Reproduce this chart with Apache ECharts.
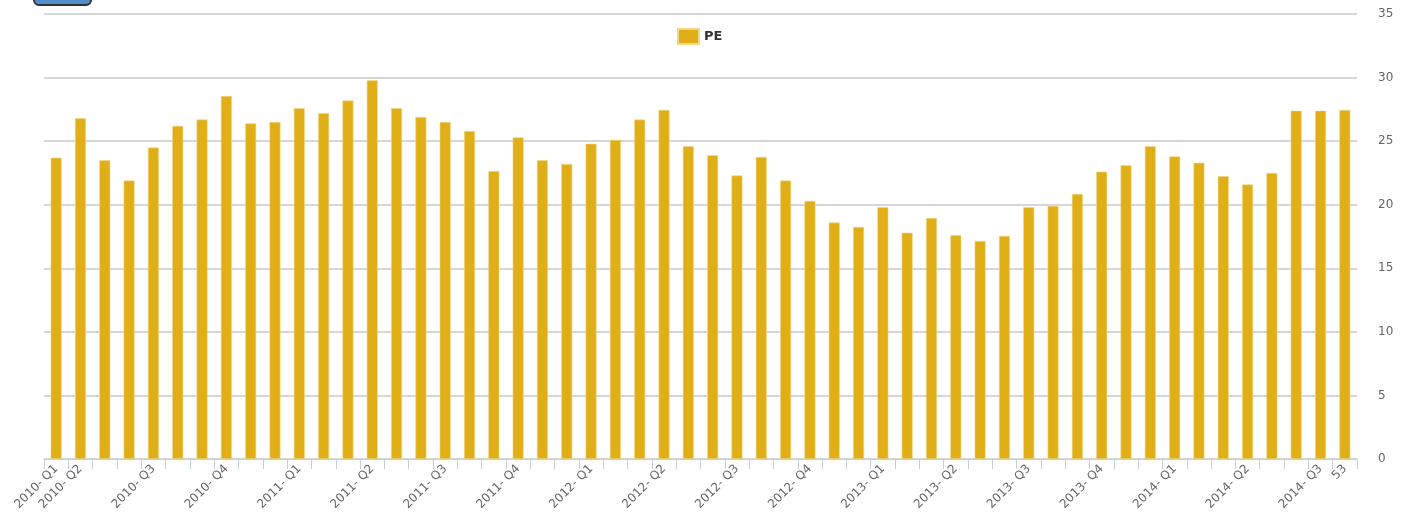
<!DOCTYPE html>
<html>
<head>
<meta charset="utf-8">
<script src="https://cdn.jsdelivr.net/npm/echarts@6/dist/echarts.min.js"></script>
<style>html,body{margin:0;padding:0;background:#fff}#c{width:1423px;height:526px}</style>
</head>
<body>
<div id="c"></div>
<script>
const tickLabels = [
  '2010- Q1','2010- Q2','','','2010- Q3','','','2010- Q4','','',
  '2011- Q1','','','2011- Q2','','','2011- Q3','','','2011- Q4',
  '','','2012- Q1','','','2012- Q2','','','2012- Q3','',
  '','2012- Q4','','','2013- Q1','','','2013- Q2','','',
  '2013- Q3','','','2013- Q4','','','2014- Q1','','','2014- Q2',
  '','','2014- Q3','53'
];
const categories = [
  'c0','c1','c2','c3','c4','c5','c6','c7','c8','c9',
  'c10','c11','c12','c13','c14','c15','c16','c17','c18','c19',
  'c20','c21','c22','c23','c24','c25','c26','c27','c28','c29',
  'c30','c31','c32','c33','c34','c35','c36','c37','c38','c39',
  'c40','c41','c42','c43','c44','c45','c46','c47','c48','c49',
  'c50','c51','c52','c53'
];
const peValues = [
  23.7, 26.8, 23.5, 21.9, 24.5, 26.2, 26.7, 28.55, 26.4, 26.5,
  27.6, 27.2, 28.2, 29.8, 27.6, 26.9, 26.5, 25.8, 22.65, 25.3,
  23.5, 23.2, 24.8, 25.1, 26.7, 27.45, 24.6, 23.9, 22.3, 23.75,
  21.9, 20.3, 18.6, 18.25, 19.8, 17.8, 18.95, 17.6, 17.15, 17.55,
  19.8, 19.9, 20.85, 22.6, 23.1, 24.6, 23.8, 23.3, 22.25, 21.6,
  22.5, 27.4, 27.4, 27.45
];
const yTicks = { min: 0, max: 35, interval: 5 };

const chart = echarts.init(document.getElementById('c'), null, { renderer: 'canvas' });
chart.setOption({
  animation: false,
  backgroundColor: '#ffffff',
  textStyle: { fontFamily: '"DejaVu Sans", sans-serif' },
  graphic: [{
    type: 'rect', left: 33, top: -12,
    shape: { width: 57, height: 16, r: 5 },
    style: { fill: '#4f8ec9', stroke: '#333', lineWidth: 2 }
  }],
  legend: {
    left: 672, top: 23,
    icon: 'rect',
    itemWidth: 21, itemHeight: 15, itemGap: 8,
    textStyle: { color: '#333', fontWeight: 'bold', fontSize: 13 },
    data: ['PE']
  },
  grid: { left: 44, right: 66, top: 14, bottom: 67, containLabel: false },
  xAxis: {
    type: 'category',
    data: categories,
    axisLine: { lineStyle: { color: '#c0d0e0', width: 1 } },
    axisTick: { show: true, length: 10, lineStyle: { color: '#c0d0e0' }, alignWithLabel: false, interval: 0 },
    axisLabel: {
      interval: 0, rotate: 45, color: '#666', fontSize: 12, margin: 8,
      formatter: function (v, i) { return tickLabels[i]; }
    },
    splitLine: { show: false }
  },
  yAxis: {
    type: 'value', position: 'right',
    min: yTicks.min, max: yTicks.max, interval: yTicks.interval,
    axisLine: { show: false }, axisTick: { show: false },
    axisLabel: { color: '#666', fontSize: 12, margin: 21 },
    splitLine: { lineStyle: { color: '#c8c8c8', width: 1.5 } }
  },
  series: [{
    name: 'PE', type: 'bar', data: peValues,
    barWidth: 11,
    itemStyle: { color: '#e0ae17', borderColor: '#f2d88a', borderWidth: 0.6 },
    z: 3
  }]
});
</script>
</body>
</html>
